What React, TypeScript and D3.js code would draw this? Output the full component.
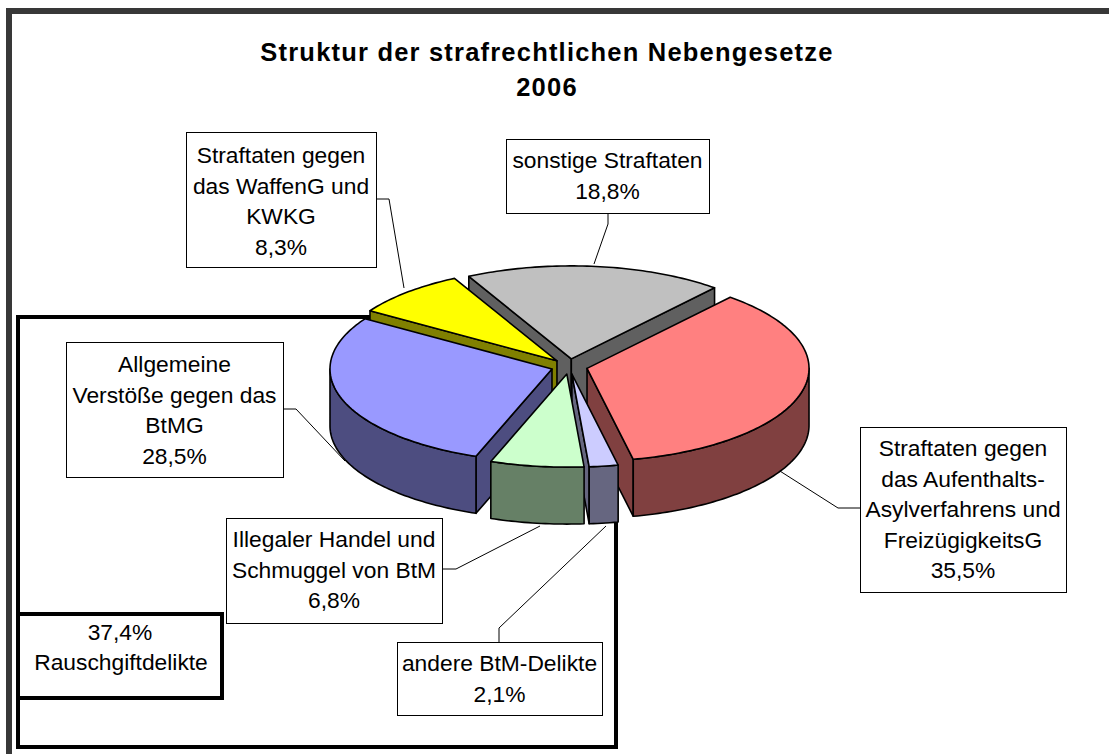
import React from "react";
import * as d3 from "d3";

const titleLines = ["Struktur der strafrechtlichen Nebengesetze", "2006"];
const categories = [
  "sonstige Straftaten",
  "Straftaten gegen das Aufenthalts-Asylverfahrens und FreizügigkeitsG",
  "andere BtM-Delikte",
  "Illegaler Handel und Schmuggel von BtM",
  "Allgemeine Verstöße gegen das BtMG",
  "Straftaten gegen das WaffenG und KWKG",
];
const values = [18.8, 35.5, 2.1, 6.8, 28.5, 8.3];
const topColors = ["#C0C0C0", "#FF8080", "#CCCCFF", "#CCFFCC", "#9999FF", "#FFFF00"];
const sideColors = ["#606060", "#804040", "#666680", "#668066", "#4D4D80", "#808000"];
// painter's order, back to front
const drawOrder = [0, 5, 1, 4, 2, 3];

const labelLines = [
  ["sonstige Straftaten", "18,8%"],
  ["Straftaten gegen", "das Aufenthalts-", "Asylverfahrens und", "FreizügigkeitsG", "35,5%"],
  ["andere BtM-Delikte", "2,1%"],
  ["Illegaler Handel und", "Schmuggel von BtM", "6,8%"],
  ["Allgemeine", "Verstöße gegen das", "BtMG", "28,5%"],
  ["Straftaten gegen", "das WaffenG und", "KWKG", "8,3%"],
];
// x0, y0, x1, y1, first baseline
const labelBoxes = [
  [506, 139, 709, 213, 168],
  [860, 427, 1066, 592, 456],
  [397, 642, 602, 715, 671],
  [226, 518, 442, 623, 547],
  [66, 342, 283, 477, 372],
  [186, 132, 376, 267, 163],
];
const leaders = [
  [[608, 213], [608, 224], [594, 264]],
  [[860, 508], [838, 508], [750, 452]],
  [[499, 642], [499, 628], [606, 526]],
  [[442, 569], [456, 569], [540, 526]],
  [[283, 409], [296, 409], [345, 461]],
  [[376, 199], [389, 199], [404, 288]],
];

const W = 1109, H = 754;
const CX = 569.3, CY = 366.5, RX = 222, RY = 93, DEPTH = 57, EXPLODE = 0.0823;
const START = (-27.5 * Math.PI) / 180;
const LH = 30.6;
const FONT = "'Liberation Sans', Arial, sans-serif";
const LABEL_SIZE = 22.8;

const sx = d3.scaleLinear().domain([-1, 1]).range([-RX, RX]);
const sy = d3.scaleLinear().domain([-1, 1]).range([-RY, RY]);
const lineGen = d3.line<[number, number]>().x((d) => d[0]).y((d) => d[1]);

const pieGen = d3.pie<number>().sort(null).startAngle(START).endAngle(START + 2 * Math.PI);
const arcs = pieGen(values);

function rim(a0: number, a1: number, ox: number, oy: number, dz: number): [number, number][] {
  const n = Math.max(2, Math.ceil(Math.abs(a1 - a0) / 0.02));
  return d3.range(n + 1).map((i) => {
    const t = a0 + ((a1 - a0) * i) / n;
    return [ox + sx(Math.sin(t)), oy + sy(-Math.cos(t)) + dz] as [number, number];
  });
}

function Slice({ index }: { index: number }) {
  const a = arcs[index];
  const mid = (a.startAngle + a.endAngle) / 2;
  const ox = CX + sx(Math.sin(mid)) * EXPLODE;
  const oy = CY + sy(-Math.cos(mid)) * EXPLODE;
  const apex: [number, number] = [ox, oy];
  const apexLow: [number, number] = [ox, oy + DEPTH];
  const walls: [number, number][][] = [];
  const edge = (t: number): [number, number] => rim(t, t, ox, oy, 0)[0];
  const startP = edge(a.startAngle);
  const endP = edge(a.endAngle);
  // a radial wall is seen when its outward normal points down the screen
  if (Math.sin(a.startAngle) < 0) walls.push([apex, startP, [startP[0], startP[1] + DEPTH], apexLow]);
  if (Math.sin(a.endAngle) > 0) walls.push([apex, endP, [endP[0], endP[1] + DEPTH], apexLow]);
  // outer wall: front half of the ellipse
  const lo = Math.max(a.startAngle, Math.PI / 2);
  const hi = Math.min(a.endAngle, (3 * Math.PI) / 2);
  const outer = hi > lo ? [...rim(lo, hi, ox, oy, 0), ...rim(hi, lo, ox, oy, DEPTH)] : null;
  const top = [apex, ...rim(a.startAngle, a.endAngle, ox, oy, 0)];
  const common = { stroke: "#000", strokeWidth: 1.6, strokeLinejoin: "round" as const };
  return (
    <g data-name={categories[index]}>
      {walls.map((w, i) => (
        <path key={i} d={lineGen(w) + "Z"} fill={sideColors[index]} {...common} />
      ))}
      {outer && <path d={lineGen(outer) + "Z"} fill={sideColors[index]} {...common} />}
      <path d={lineGen(top) + "Z"} fill={topColors[index]} {...common} />
    </g>
  );
}

export default function App() {
  return (
    <svg
      width={W}
      height={H}
      viewBox={`0 0 ${W} ${H}`}
      style={{ position: "absolute", left: 0, top: 0, display: "block", background: "#fff" }}
      fontFamily={FONT}
    >
      <path d={`M9 ${H}V11H${W}`} fill="none" stroke="#383838" strokeWidth={6} />

      {titleLines.map((t, i) => (
        <text key={t} x={547} y={61 + i * 35} textAnchor="middle" fontSize={25.5} letterSpacing={1.2} fontWeight="bold" fill="#000">
          {t}
        </text>
      ))}

      <rect x={18} y={317} width={598} height={430} fill="none" stroke="#000" strokeWidth={4} />
      <rect x={18} y={614} width={204} height={84} fill="#fff" stroke="#000" strokeWidth={4} />
      <text x={120} y={640} textAnchor="middle" fontSize={LABEL_SIZE}>37,4%</text>
      <text x={121} y={670} textAnchor="middle" fontSize={LABEL_SIZE}>Rauschgiftdelikte</text>

      {leaders.map((l, i) => (
        <path key={i} d={lineGen(l as [number, number][]) ?? ""} fill="none" stroke="#000" strokeWidth={1} />
      ))}

      {drawOrder.map((i) => (
        <Slice key={i} index={i} />
      ))}

      {labelBoxes.map((b, i) => (
        <g key={i}>
          <rect x={b[0] + 0.5} y={b[1] + 0.5} width={b[2] - b[0]} height={b[3] - b[1]} fill="#fff" stroke="#000" strokeWidth={1} />
          {labelLines[i].map((t, j) => (
            <text key={j} x={(b[0] + b[2]) / 2} y={b[4] + j * LH} textAnchor="middle" fontSize={LABEL_SIZE} fill="#000">
              {t}
            </text>
          ))}
        </g>
      ))}
    </svg>
  );
}
